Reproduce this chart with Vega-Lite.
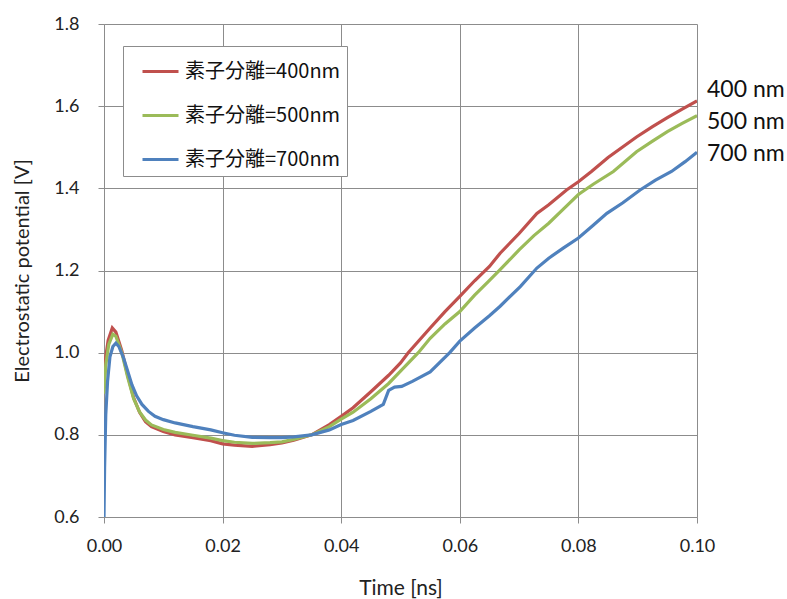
{
  "$schema": "https://vega.github.io/schema/vega-lite/v6.json",
  "width": 593,
  "height": 493,
  "autosize": {"type": "none"},
  "padding": {"left": 104, "top": 24, "right": 90, "bottom": 82},
  "background": "white",
  "config": {
    "view": {"stroke": null},
    "axis": {
      "gridColor": "#8c8c8c",
      "gridWidth": 1,
      "gridOpacity": 1,
      "domainColor": "#8c8c8c",
      "domainWidth": 1,
      "tickColor": "#8c8c8c",
      "tickSize": 6,
      "labelFont": "Lato",
      "labelColor": "#222",
      "labelFlush": false,
      "labelOverlap": false,
      "titleFont": "Lato",
      "titleFontWeight": "normal",
      "titleColor": "#222"
    }
  },
  "layer": [
    {
      "data": {
        "values": [
          {"t": 0, "v": 0.93, "s": "素子分離=400nm"},
          {"t": 0.0003, "v": 0.99, "s": "素子分離=400nm"},
          {"t": 0.0007, "v": 1.03, "s": "素子分離=400nm"},
          {"t": 0.0014, "v": 1.06, "s": "素子分離=400nm"},
          {"t": 0.002, "v": 1.05, "s": "素子分離=400nm"},
          {"t": 0.003, "v": 1.005, "s": "素子分離=400nm"},
          {"t": 0.004, "v": 0.945, "s": "素子分離=400nm"},
          {"t": 0.005, "v": 0.89, "s": "素子分離=400nm"},
          {"t": 0.006, "v": 0.855, "s": "素子分離=400nm"},
          {"t": 0.007, "v": 0.832, "s": "素子分離=400nm"},
          {"t": 0.008, "v": 0.82, "s": "素子分離=400nm"},
          {"t": 0.01, "v": 0.808, "s": "素子分離=400nm"},
          {"t": 0.012, "v": 0.8, "s": "素子分離=400nm"},
          {"t": 0.015, "v": 0.793, "s": "素子分離=400nm"},
          {"t": 0.018, "v": 0.786, "s": "素子分離=400nm"},
          {"t": 0.02, "v": 0.778, "s": "素子分離=400nm"},
          {"t": 0.022, "v": 0.775, "s": "素子分離=400nm"},
          {"t": 0.025, "v": 0.772, "s": "素子分離=400nm"},
          {"t": 0.028, "v": 0.776, "s": "素子分離=400nm"},
          {"t": 0.03, "v": 0.78, "s": "素子分離=400nm"},
          {"t": 0.032, "v": 0.787, "s": "素子分離=400nm"},
          {"t": 0.035, "v": 0.8, "s": "素子分離=400nm"},
          {"t": 0.038, "v": 0.825, "s": "素子分離=400nm"},
          {"t": 0.04, "v": 0.845, "s": "素子分離=400nm"},
          {"t": 0.042, "v": 0.866, "s": "素子分離=400nm"},
          {"t": 0.045, "v": 0.905, "s": "素子分離=400nm"},
          {"t": 0.048, "v": 0.945, "s": "素子分離=400nm"},
          {"t": 0.05, "v": 0.975, "s": "素子分離=400nm"},
          {"t": 0.0513, "v": 1.0, "s": "素子分離=400nm"},
          {"t": 0.055, "v": 1.06, "s": "素子分離=400nm"},
          {"t": 0.0575, "v": 1.1, "s": "素子分離=400nm"},
          {"t": 0.06, "v": 1.137, "s": "素子分離=400nm"},
          {"t": 0.0625, "v": 1.175, "s": "素子分離=400nm"},
          {"t": 0.065, "v": 1.21, "s": "素子分離=400nm"},
          {"t": 0.0668, "v": 1.242, "s": "素子分離=400nm"},
          {"t": 0.07, "v": 1.29, "s": "素子分離=400nm"},
          {"t": 0.073, "v": 1.339, "s": "素子分離=400nm"},
          {"t": 0.075, "v": 1.36, "s": "素子分離=400nm"},
          {"t": 0.078, "v": 1.396, "s": "素子分離=400nm"},
          {"t": 0.08, "v": 1.416, "s": "素子分離=400nm"},
          {"t": 0.0822, "v": 1.441, "s": "素子分離=400nm"},
          {"t": 0.085, "v": 1.475, "s": "素子分離=400nm"},
          {"t": 0.0898, "v": 1.525, "s": "素子分離=400nm"},
          {"t": 0.0925, "v": 1.55, "s": "素子分離=400nm"},
          {"t": 0.095, "v": 1.572, "s": "素子分離=400nm"},
          {"t": 0.0975, "v": 1.593, "s": "素子分離=400nm"},
          {"t": 0.1, "v": 1.613, "s": "素子分離=400nm"},
          {"t": 0, "v": 0.9, "s": "素子分離=500nm"},
          {"t": 0.0003, "v": 0.97, "s": "素子分離=500nm"},
          {"t": 0.0008, "v": 1.02, "s": "素子分離=500nm"},
          {"t": 0.0015, "v": 1.045, "s": "素子分離=500nm"},
          {"t": 0.002, "v": 1.04, "s": "素子分離=500nm"},
          {"t": 0.003, "v": 1.0, "s": "素子分離=500nm"},
          {"t": 0.004, "v": 0.94, "s": "素子分離=500nm"},
          {"t": 0.005, "v": 0.888, "s": "素子分離=500nm"},
          {"t": 0.006, "v": 0.856, "s": "素子分離=500nm"},
          {"t": 0.007, "v": 0.836, "s": "素子分離=500nm"},
          {"t": 0.008, "v": 0.824, "s": "素子分離=500nm"},
          {"t": 0.01, "v": 0.813, "s": "素子分離=500nm"},
          {"t": 0.012, "v": 0.806, "s": "素子分離=500nm"},
          {"t": 0.015, "v": 0.799, "s": "素子分離=500nm"},
          {"t": 0.018, "v": 0.792, "s": "素子分離=500nm"},
          {"t": 0.02, "v": 0.786, "s": "素子分離=500nm"},
          {"t": 0.022, "v": 0.782, "s": "素子分離=500nm"},
          {"t": 0.025, "v": 0.779, "s": "素子分離=500nm"},
          {"t": 0.028, "v": 0.781, "s": "素子分離=500nm"},
          {"t": 0.03, "v": 0.783, "s": "素子分離=500nm"},
          {"t": 0.032, "v": 0.789, "s": "素子分離=500nm"},
          {"t": 0.035, "v": 0.8, "s": "素子分離=500nm"},
          {"t": 0.038, "v": 0.82, "s": "素子分離=500nm"},
          {"t": 0.04, "v": 0.838, "s": "素子分離=500nm"},
          {"t": 0.042, "v": 0.855, "s": "素子分離=500nm"},
          {"t": 0.045, "v": 0.888, "s": "素子分離=500nm"},
          {"t": 0.048, "v": 0.925, "s": "素子分離=500nm"},
          {"t": 0.05, "v": 0.955, "s": "素子分離=500nm"},
          {"t": 0.053, "v": 1.0, "s": "素子分離=500nm"},
          {"t": 0.055, "v": 1.035, "s": "素子分離=500nm"},
          {"t": 0.0575, "v": 1.07, "s": "素子分離=500nm"},
          {"t": 0.06, "v": 1.1, "s": "素子分離=500nm"},
          {"t": 0.0625, "v": 1.14, "s": "素子分離=500nm"},
          {"t": 0.0648, "v": 1.173, "s": "素子分離=500nm"},
          {"t": 0.0668, "v": 1.202, "s": "素子分離=500nm"},
          {"t": 0.07, "v": 1.25, "s": "素子分離=500nm"},
          {"t": 0.0725, "v": 1.285, "s": "素子分離=500nm"},
          {"t": 0.075, "v": 1.315, "s": "素子分離=500nm"},
          {"t": 0.0775, "v": 1.35, "s": "素子分離=500nm"},
          {"t": 0.08, "v": 1.385, "s": "素子分離=500nm"},
          {"t": 0.0825, "v": 1.41, "s": "素子分離=500nm"},
          {"t": 0.0859, "v": 1.441, "s": "素子分離=500nm"},
          {"t": 0.0898, "v": 1.489, "s": "素子分離=500nm"},
          {"t": 0.0925, "v": 1.515, "s": "素子分離=500nm"},
          {"t": 0.095, "v": 1.538, "s": "素子分離=500nm"},
          {"t": 0.0975, "v": 1.558, "s": "素子分離=500nm"},
          {"t": 0.1, "v": 1.577, "s": "素子分離=500nm"},
          {"t": 0, "v": 0.6, "s": "素子分離=700nm"},
          {"t": 0.0001, "v": 0.72, "s": "素子分離=700nm"},
          {"t": 0.0003, "v": 0.85, "s": "素子分離=700nm"},
          {"t": 0.0006, "v": 0.93, "s": "素子分離=700nm"},
          {"t": 0.001, "v": 0.99, "s": "素子分離=700nm"},
          {"t": 0.0015, "v": 1.015, "s": "素子分離=700nm"},
          {"t": 0.002, "v": 1.023, "s": "素子分離=700nm"},
          {"t": 0.0025, "v": 1.015, "s": "素子分離=700nm"},
          {"t": 0.0033, "v": 0.987, "s": "素子分離=700nm"},
          {"t": 0.004, "v": 0.955, "s": "素子分離=700nm"},
          {"t": 0.0047, "v": 0.922, "s": "素子分離=700nm"},
          {"t": 0.0055, "v": 0.895, "s": "素子分離=700nm"},
          {"t": 0.0064, "v": 0.874, "s": "素子分離=700nm"},
          {"t": 0.0075, "v": 0.857, "s": "素子分離=700nm"},
          {"t": 0.0086, "v": 0.845, "s": "素子分離=700nm"},
          {"t": 0.01, "v": 0.837, "s": "素子分離=700nm"},
          {"t": 0.012, "v": 0.829, "s": "素子分離=700nm"},
          {"t": 0.015, "v": 0.82, "s": "素子分離=700nm"},
          {"t": 0.018, "v": 0.812, "s": "素子分離=700nm"},
          {"t": 0.02, "v": 0.805, "s": "素子分離=700nm"},
          {"t": 0.022, "v": 0.799, "s": "素子分離=700nm"},
          {"t": 0.025, "v": 0.794, "s": "素子分離=700nm"},
          {"t": 0.028, "v": 0.793, "s": "素子分離=700nm"},
          {"t": 0.03, "v": 0.793, "s": "素子分離=700nm"},
          {"t": 0.032, "v": 0.795, "s": "素子分離=700nm"},
          {"t": 0.035, "v": 0.8, "s": "素子分離=700nm"},
          {"t": 0.038, "v": 0.812, "s": "素子分離=700nm"},
          {"t": 0.04, "v": 0.825, "s": "素子分離=700nm"},
          {"t": 0.042, "v": 0.835, "s": "素子分離=700nm"},
          {"t": 0.045, "v": 0.857, "s": "素子分離=700nm"},
          {"t": 0.0471, "v": 0.874, "s": "素子分離=700nm"},
          {"t": 0.048, "v": 0.908, "s": "素子分離=700nm"},
          {"t": 0.049, "v": 0.916, "s": "素子分離=700nm"},
          {"t": 0.0502, "v": 0.918, "s": "素子分離=700nm"},
          {"t": 0.052, "v": 0.93, "s": "素子分離=700nm"},
          {"t": 0.055, "v": 0.953, "s": "素子分離=700nm"},
          {"t": 0.0583, "v": 1.0, "s": "素子分離=700nm"},
          {"t": 0.06, "v": 1.028, "s": "素子分離=700nm"},
          {"t": 0.0625, "v": 1.06, "s": "素子分離=700nm"},
          {"t": 0.065, "v": 1.09, "s": "素子分離=700nm"},
          {"t": 0.0668, "v": 1.113, "s": "素子分離=700nm"},
          {"t": 0.0702, "v": 1.161, "s": "素子分離=700nm"},
          {"t": 0.073, "v": 1.206, "s": "素子分離=700nm"},
          {"t": 0.075, "v": 1.23, "s": "素子分離=700nm"},
          {"t": 0.0775, "v": 1.255, "s": "素子分離=700nm"},
          {"t": 0.08, "v": 1.279, "s": "素子分離=700nm"},
          {"t": 0.0825, "v": 1.31, "s": "素子分離=700nm"},
          {"t": 0.0848, "v": 1.339, "s": "素子分離=700nm"},
          {"t": 0.0875, "v": 1.365, "s": "素子分離=700nm"},
          {"t": 0.0904, "v": 1.396, "s": "素子分離=700nm"},
          {"t": 0.093, "v": 1.42, "s": "素子分離=700nm"},
          {"t": 0.0957, "v": 1.441, "s": "素子分離=700nm"},
          {"t": 0.098, "v": 1.465, "s": "素子分離=700nm"},
          {"t": 0.1, "v": 1.488, "s": "素子分離=700nm"}
        ]
      },
      "mark": {"type": "line", "strokeWidth": 3.2, "clip": true},
      "encoding": {
        "x": {
          "field": "t",
          "type": "quantitative",
          "scale": {"domain": [0, 0.1], "nice": false, "zero": false},
          "axis": {
            "values": [0, 0.02, 0.04, 0.06, 0.08, 0.1],
            "format": ".2f",
            "title": "Time [ns]",
            "labelFontSize": 18,
            "labelPadding": 14,
            "titleFontSize": 21,
            "titlePadding": 22
          }
        },
        "y": {
          "field": "v",
          "type": "quantitative",
          "scale": {"domain": [0.6, 1.8], "nice": false, "zero": false},
          "axis": {
            "values": [0.6, 0.8, 1.0, 1.2, 1.4, 1.6, 1.8],
            "format": ".1f",
            "title": "Electrostatic potential [V]",
            "labelFontSize": 18,
            "labelPadding": 19,
            "titleFontSize": 20,
            "titlePadding": 21
          }
        },
        "color": {
          "field": "s",
          "type": "nominal",
          "scale": {
            "domain": ["素子分離=400nm", "素子分離=500nm", "素子分離=700nm"],
            "range": ["#C0504D", "#9BBB59", "#4F81BD"]
          },
          "legend": {
            "title": null,
            "orient": "none",
            "legendX": 19,
            "legendY": 22,
            "direction": "vertical",
            "strokeColor": "#8c8c8c",
            "fillColor": "white",
            "padding": 6,
            "symbolType": "stroke",
            "symbolSize": 1296,
            "symbolStrokeWidth": 3,
            "symbolOffset": 12,
            "labelFont": "Noto Sans CJK JP",
            "labelFontSize": 20,
            "labelColor": "#111",
            "labelOffset": 5,
            "labelLimit": 400,
            "rowPadding": 14
          }
        }
      }
    },
    {
      "data": {
        "values": [
          {"t": 0.1, "v": 1.64, "label": "400 nm"},
          {"t": 0.1, "v": 1.562, "label": "500 nm"},
          {"t": 0.1, "v": 1.484, "label": "700 nm"}
        ]
      },
      "mark": {"type": "text", "align": "left", "baseline": "middle", "dx": 10, "font": "Lato", "fontSize": 23, "color": "#111"},
      "encoding": {
        "x": {"field": "t", "type": "quantitative"},
        "y": {"field": "v", "type": "quantitative"},
        "text": {"field": "label"}
      }
    }
  ]
}
